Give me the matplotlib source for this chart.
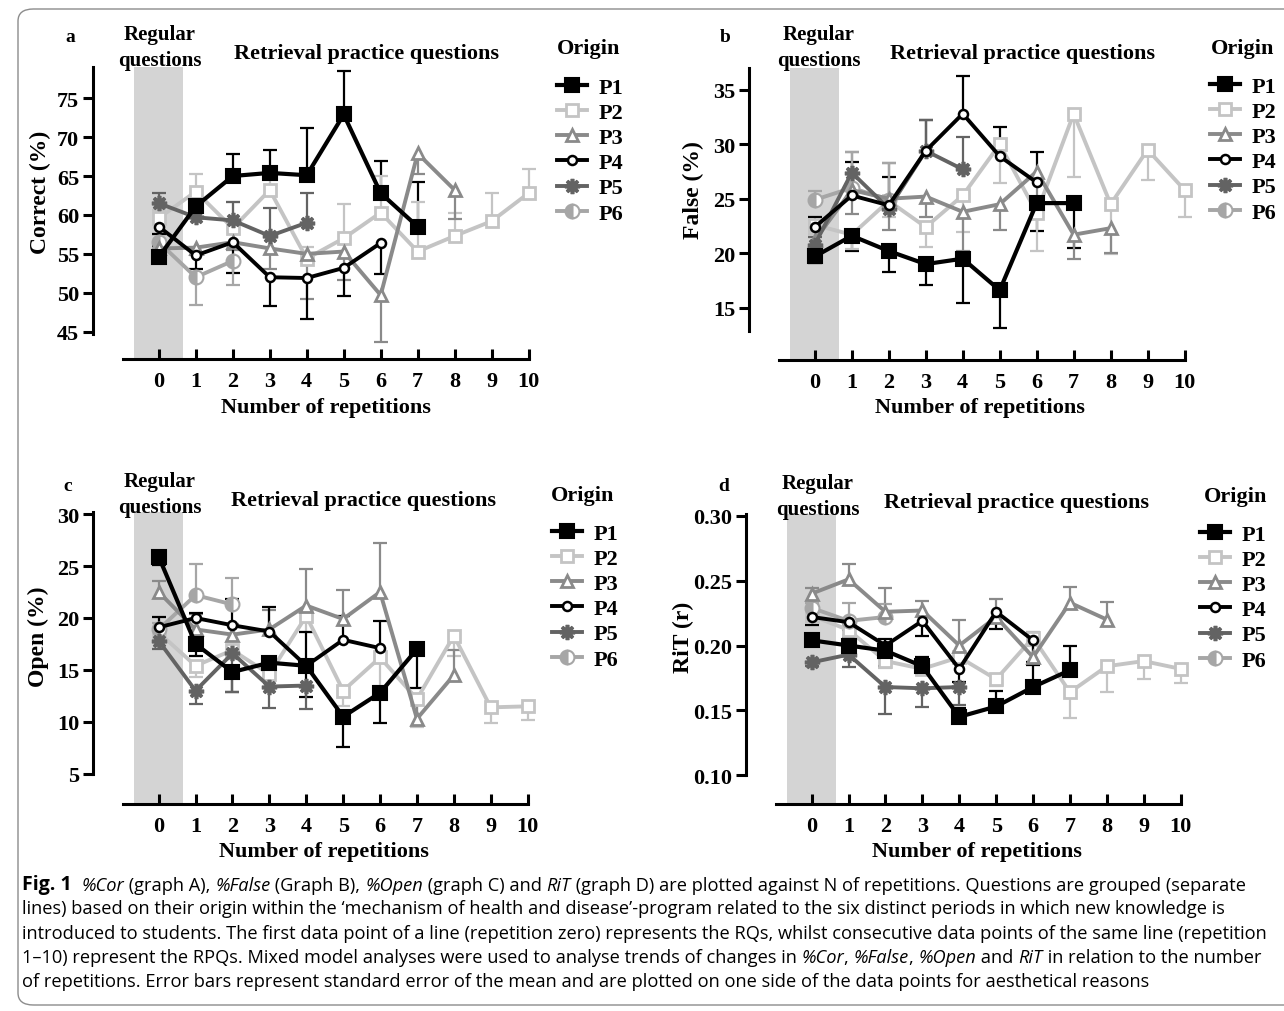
import matplotlib
matplotlib.use("Agg")
import matplotlib.pyplot as plt
from matplotlib.font_manager import FontProperties, fontManager
from matplotlib.patches import FancyBboxPatch
import numpy as np

# ---------------- data ----------------
series_names = ["P1", "P2", "P3", "P4", "P5", "P6"]
xtick_labels = [str(i) for i in range(11)]

# Panel a: Correct (%)
cor_P1 = [54.6, 61.1, 65.0, 65.4, 65.1, 72.9, 62.8, 58.5]
cor_P2 = [59.6, 63.0, 58.3, 63.2, 54.4, 57.0, 60.3, 55.3, 57.3, 59.2, 62.8]
cor_P3 = [55.7, 55.8, 56.5, 55.7, 55.0, 55.3, 49.7, 67.9, 63.2]
cor_P4 = [58.5, 54.8, 56.5, 52.0, 51.9, 53.2, 56.4]
cor_P5 = [61.5, 59.7, 59.3, 57.3, 59.0]
cor_P6 = [56.5, 52.0, 54.1]
cor_P1_err = [1.4, 1.2, 2.8, 3.0, 6.1, 5.6, 4.1, 5.7]
cor_P2_err = [1.0, 2.2, 3.3, 2.3, 1.5, 4.4, 4.7, 6.3, 3.0, 3.6, 3.1]
cor_P3_err = [0.8, 1.0, 1.0, 2.6, 5.8, 3.6, 6.0, 2.6, 3.7]
cor_P4_err = [1.0, 1.8, 4.0, 3.7, 5.2, 3.6, 4.0]
cor_P5_err = [1.3, 1.5, 2.4, 3.6, 3.8]
cor_P6_err = [0.8, 3.6, 3.1]

# Panel b: False (%)
false_P1 = [19.7, 21.6, 20.2, 19.0, 19.5, 16.6, 24.6, 24.6]
false_P2 = [22.6, 21.7, 24.8, 22.4, 25.3, 30.0, 23.7, 32.8, 24.5, 29.5, 25.8]
false_P3 = [21.2, 25.8, 25.0, 25.2, 23.8, 24.5, 27.5, 21.7, 22.3]
false_P4 = [22.4, 25.3, 24.4, 29.4, 32.8, 28.9, 26.5]
false_P5 = [20.8, 27.4, 24.1, 29.4, 27.7]
false_P6 = [24.9, 26.0, 24.9]
false_P1_err = [0.6, 1.4, 1.9, 1.95, 4.1, 3.45, 2.55, 4.15]
false_P2_err = [0.8, 1.3, 1.5, 1.8, 3.35, 3.6, 3.5, 5.8, 4.6, 2.75, 2.5]
false_P3_err = [0.6, 2.2, 2.9, 1.9, 3.6, 2.4, 2.5, 2.2, 2.3]
false_P4_err = [0.9, 3.1, 2.6, 2.8, 3.45, 2.7, 2.75]
false_P5_err = [0.7, 1.9, 4.2, 2.8, 3.0]
false_P6_err = [0.8, 3.3, 3.4]

# Panel c: Open (%)
open_P1 = [25.9, 17.5, 14.8, 15.7, 15.4, 10.5, 12.8, 17.0]
open_P2 = [18.6, 15.4, 16.9, 14.6, 20.2, 13.0, 16.2, 12.2, 18.3, 11.4, 11.5]
open_P3 = [22.5, 18.9, 18.4, 18.9, 21.2, 19.9, 22.5, 10.3, 14.5]
open_P4 = [19.1, 20.0, 19.3, 18.7, 15.4, 17.9, 17.1]
open_P5 = [17.8, 13.0, 16.6, 13.4, 13.5]
open_P6 = [18.9, 22.2, 21.3]
open_P1_err = [0.8, 1.2, 1.9, 0.8, 3.0, 2.9, 2.9, 3.7]
open_P2_err = [0.8, 1.1, 0.8, 0.6, 1.5, 1.5, 2.7, 2.7, 2.0, 1.55, 1.3]
open_P3_err = [1.1, 1.5, 1.0, 1.9, 3.5, 2.8, 4.75, 1.6, 2.4]
open_P4_err = [1.0, 0.5, 2.5, 2.35, 3.3, 2.3, 2.6]
open_P5_err = [0.8, 1.3, 3.7, 2.1, 2.3]
open_P6_err = [0.6, 3.0, 2.55]

# Panel d: RiT (r)
rit_P1 = [0.204, 0.200, 0.196, 0.184, 0.145, 0.153, 0.168, 0.181]
rit_P2 = [0.223, 0.212, 0.188, 0.182, 0.191, 0.174, 0.206, 0.164, 0.184, 0.188, 0.182]
rit_P3 = [0.240, 0.251, 0.226, 0.227, 0.200, 0.222, 0.191, 0.233, 0.220]
rit_P4 = [0.222, 0.218, 0.200, 0.219, 0.182, 0.226, 0.204]
rit_P5 = [0.187, 0.193, 0.168, 0.167, 0.168]
rit_P6 = [0.229, 0.219, 0.222]
rit_P1_err = [0.003, 0.006, 0.009, 0.0072, 0.007, 0.012, 0.019, 0.019]
rit_P2_err = [0.003, 0.004, 0.005, 0.004, 0.004, 0.005, 0.006, 0.020, 0.020, 0.0137, 0.011]
rit_P3_err = [0.004, 0.0115, 0.0185, 0.007, 0.020, 0.0137, 0.0197, 0.012, 0.0137]
rit_P4_err = [0.006, 0.006, 0.0155, 0.0115, 0.010, 0.0134, 0.019]
rit_P5_err = [0.003, 0.0095, 0.0207, 0.0147, 0.014]
rit_P6_err = [0.004, 0.014, 0.010]

# side on which the one-sided error bars are drawn (+1 up, -1 down)
dir_a = [1, 1, -1, -1, 1, -1]
dir_b = [-1, -1, -1, 1, 1, 1]
dir_c = [-1, -1, 1, 1, -1, 1]
dir_d = [1, -1, 1, -1, -1, 1]

caption_lines = [
    [("Fig. 1", "b"), ("  ", "r"), ("%Cor", "i"), (" (graph A), ", "r"), ("%False", "i"),
     (" (Graph B), ", "r"), ("%Open", "i"), (" (graph C) and ", "r"), ("RiT", "i"),
     (" (graph D) are plotted against N of repetitions. Questions are grouped (separate", "r")],
    [("lines) based on their origin within the \u2018mechanism of health and disease\u2019-program related to the six distinct periods in which new knowledge is", "r")],
    [("introduced to students. The first data point of a line (repetition zero) represents the RQs, whilst consecutive data points of the same line (repetition", "r")],
    [("1\u201310) represent the RPQs. Mixed model analyses were used to analyse trends of changes in ", "r"), ("%Cor", "i"), (", ", "r"),
     ("%False", "i"), (", ", "r"), ("%Open", "i"), (" and ", "r"), ("RiT", "i"), (" in relation to the number", "r")],
    [("of repetitions. Error bars represent standard error of the mean and are plotted on one side of the data points for aesthetical reasons", "r")],
]

# ---------------- styling ----------------
W, H = 1284, 1012
fig = plt.figure(figsize=(W / 100, H / 100), dpi=100)
fig.patch.set_facecolor("white")

SERIF = "Liberation Serif"
colors = ["#000000", "#c4c4c4", "#8a8a8a", "#000000", "#636363", "#a6a6a6"]
styles = [
    dict(marker="s", ms=9.5, mfc="#000000", mec="#000000", mew=1.5, lw=3.0),
    dict(marker="s", ms=8.0, mfc="white", mec=colors[1], mew=2.0, lw=2.8),
    dict(marker="^", ms=8.5, mfc="white", mec=colors[2], mew=2.0, lw=2.8),
    dict(marker="o", ms=6.5, mfc="white", mec="#000000", mew=1.8, lw=2.8),
    dict(marker=(8, 2, 0), ms=11, mec=colors[4], mew=2.6, lw=2.8),
    dict(marker="o", ms=10, mfc=colors[5], mec=colors[5], mew=1.5, lw=2.8,
         fillstyle="left", markerfacecoloralt="white"),
]

TICK_FS = 16


def px_axes(left, top, right, bottom):
    return fig.add_axes([left / W, 1 - bottom / H, (right - left) / W, (bottom - top) / H])


def draw_panel(ax, data, errs, dirs, ylim, spine_lo, yticks, yfmt):
    for i, (vals, err, d) in enumerate(zip(data, errs, dirs)):
        x = np.arange(len(vals))
        v = np.array(vals)
        e = np.array(err)
        ends = v + d * e
        ax.vlines(x, v, ends, color=colors[i], lw=1.6, zorder=2)
        ax.plot(x, ends, ls="none", marker="_", ms=10, mew=1.6, color=colors[i], zorder=2)
    order = [1, 5, 2, 4, 3, 0]
    handles = {}
    for i in order:
        vals = data[i]
        st = dict(styles[i])
        lw = st.pop("lw")
        ln, = ax.plot(np.arange(len(vals)), vals, color=colors[i], lw=lw, zorder=3 + order.index(i),
                      label=series_names[i], **st)
        handles[i] = ln
    ax.axvspan(-0.67, 0.66, color="#d4d4d4", zorder=0, lw=0)
    ax.set_xlim(-1.78, 10.2)
    ax.set_ylim(*ylim)
    for s in ["top", "right"]:
        ax.spines[s].set_visible(False)
    ax.spines["left"].set_linewidth(2.2)
    ax.spines["bottom"].set_linewidth(2.2)
    ax.spines["left"].set_bounds(spine_lo, ylim[1])
    ax.spines["bottom"].set_bounds(-0.98, 10)
    ax.set_xticks(range(11))
    ax.set_xticklabels(xtick_labels)
    ax.set_yticks(yticks)
    ax.set_yticklabels([yfmt % t for t in yticks])
    ax.tick_params(axis="x", direction="in", length=7, width=2.2, pad=9, labelsize=TICK_FS)
    ax.tick_params(axis="y", direction="out", length=7, width=2.2, pad=3, labelsize=TICK_FS)
    for lab in ax.get_xticklabels() + ax.get_yticklabels():
        lab.set_fontfamily(SERIF)
        lab.set_fontweight("bold")
    ax.set_facecolor("none")
    return [handles[i] for i in range(6)]


def ftext(x, y, s, size=14, ha="center", va="center", rot=0):
    fig.text(x / W, 1 - y / H, s, ha=ha, va=va, rotation=rot, fontsize=size,
             fontfamily=SERIF, fontweight="bold")


panels = [
    dict(box=(93, 68, 536, 360), data=[cor_P1, cor_P2, cor_P3, cor_P4, cor_P5, cor_P6],
         errs=[cor_P1_err, cor_P2_err, cor_P3_err, cor_P4_err, cor_P5_err, cor_P6_err], dirs=dir_a,
         ylim=(41.5, 79.0), lo=44.7, yt=[45, 50, 55, 60, 65, 70, 75], fmt="%d", ylabel="Correct (%)",
         letter=("a", 70, 38), reg=(160, 35, 61), ret=(367, 54), origin=(589, 49),
         xlab=(326, 408), ylab=(40, 192), leg=(557, 78)),
    dict(box=(749, 69, 1192, 361), data=[false_P1, false_P2, false_P3, false_P4, false_P5, false_P6],
         errs=[false_P1_err, false_P2_err, false_P3_err, false_P4_err, false_P5_err, false_P6_err], dirs=dir_b,
         ylim=(10.2, 37.0), lo=12.9, yt=[15, 20, 25, 30, 35], fmt="%d", ylabel="False (%)",
         letter=("b", 725, 38), reg=(819, 35, 61), ret=(1023, 54), origin=(1243, 49),
         xlab=(980, 408), ylab=(693, 190), leg=(1210, 77)),
    dict(box=(93, 513, 535, 805), data=[open_P1, open_P2, open_P3, open_P4, open_P5, open_P6],
         errs=[open_P1_err, open_P2_err, open_P3_err, open_P4_err, open_P5_err, open_P6_err], dirs=dir_c,
         ylim=(2.1, 30.2), lo=5.0, yt=[5, 10, 15, 20, 25, 30], fmt="%d", ylabel="Open (%)",
         letter=("c", 68, 487), reg=(160, 482, 508), ret=(364, 501), origin=(583, 496),
         xlab=(324, 852), ylab=(38, 637), leg=(552, 524)),
    dict(box=(746, 515, 1188, 805), data=[rit_P1, rit_P2, rit_P3, rit_P4, rit_P5, rit_P6],
         errs=[rit_P1_err, rit_P2_err, rit_P3_err, rit_P4_err, rit_P5_err, rit_P6_err], dirs=dir_d,
         ylim=(0.0778, 0.3014), lo=0.10, yt=[0.10, 0.15, 0.20, 0.25, 0.30], fmt="%.2f", ylabel="RiT (r)",
         letter=("d", 724, 487), reg=(818, 484, 510), ret=(1017, 503), origin=(1236, 497),
         xlab=(977, 852), ylab=(683, 637), leg=(1200, 525)),
]

legfont = FontProperties(family=SERIF, weight="bold", size=16)
for p in panels:
    ax = px_axes(*p["box"])
    hs = draw_panel(ax, p["data"], p["errs"], p["dirs"], p["ylim"], p["lo"], p["yt"], p["fmt"])
    lx, ly = p["leg"]
    ax.legend(hs, series_names, loc="upper left", bbox_to_anchor=(lx / W, 1 - ly / H),
              bbox_transform=fig.transFigure, frameon=False, prop=legfont, handlelength=1.35,
              handletextpad=0.5, labelspacing=0.21, borderpad=0, borderaxespad=0, numpoints=1)
    l, x0, y0 = p["letter"]
    ftext(x0, y0, l, size=14)
    rx, ry1, ry2 = p["reg"]
    ftext(rx, ry1, "Regular", size=15)
    ftext(rx, ry2, "questions", size=15)
    ftext(p["ret"][0], p["ret"][1], "Retrieval practice questions", size=16)
    ftext(p["origin"][0], p["origin"][1], "Origin", size=16)
    ftext(p["xlab"][0], p["xlab"][1], "Number of repetitions", size=16)
    ftext(p["ylab"][0], p["ylab"][1], p["ylabel"], size=17, rot=90)

# ---------------- frame ----------------
frame = FancyBboxPatch((18 / W, 1 - 1006 / H), (1400 - 18) / W, (1006 - 10) / H,
                       boxstyle="round,pad=0,rounding_size=0.012", transform=fig.transFigure,
                       fill=False, edgecolor="#8c8c8c", lw=1.0, clip_on=False)
fig.patches.append(frame)

# ---------------- caption ----------------
names = {f.name for f in fontManager.ttflist}
cap_family = "Liberation Sans Narrow" if "Liberation Sans Narrow" in names else "Open Sans"
renderer = fig.canvas.get_renderer()


def seg_props(kind, size):
    return dict(fontsize=size, fontfamily=cap_family,
                fontweight="bold" if kind == "b" else "normal",
                fontstyle="italic" if kind == "i" else "normal")


# fit font size so that line 3 spans the caption width
probe = fig.text(0, 0, caption_lines[2][0][0], **seg_props("r", 10))
wpx = probe.get_window_extent(renderer).width
probe.remove()
cap_size = 10 * (1268 - 22) / wpx

line_y = [885, 909, 934, 958, 982]
cap_ax = fig.add_axes([0, 0, 1, 1], facecolor="none")
cap_ax.set_axis_off()
cap_ax.set_zorder(-5)
for segs, yy in zip(caption_lines, line_y):
    prev = None
    for s, kind in segs:
        pr = seg_props(kind, cap_size * (1.08 if kind == "b" else 1.0))
        if prev is None:
            prev = cap_ax.text(22 / W, 1 - yy / H, s, ha="left", va="center", transform=fig.transFigure, **pr)
        else:
            prev = cap_ax.annotate(s, xy=(1, 0), xycoords=prev, ha="left", va="bottom", **pr)

fig.savefig("out.png", dpi=100, facecolor="white")
